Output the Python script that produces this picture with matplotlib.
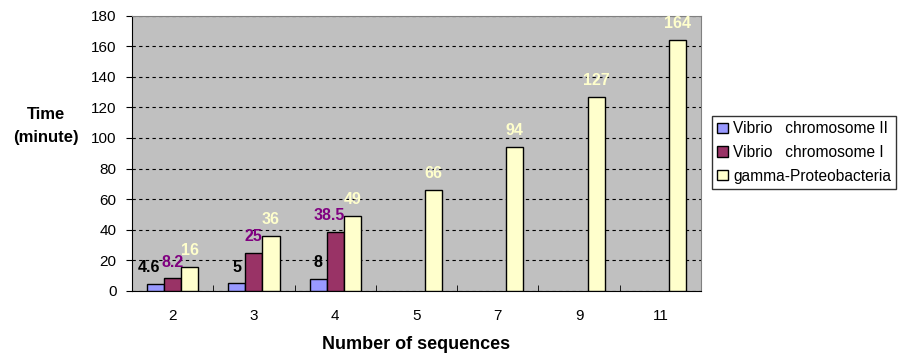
import matplotlib
matplotlib.use("Agg")
import matplotlib.pyplot as plt
import numpy as np

plt.rcParams['font.family'] = ['Liberation Sans', 'DejaVu Sans']

categories = ["2", "3", "4", "5", "7", "9", "11"]
series_names = ["Vibrio   chromosome II", "Vibrio   chromosome I", "gamma-Proteobacteria"]
chr2 = [4.6, 5, 8, None, None, None, None]
chr1 = [8.2, 25, 38.5, None, None, None, None]
gamma = [16, 36, 49, 66, 94, 127, 164]
label_text = {
    0: ["4.6", "5", "8"],
    1: ["8.2", "25", "38.5"],
}
colors = ["#9999FF", "#993366", "#FFFFCC"]
label_colors = ["#000000", "#800080", "#FFFFCC"]
yticks = [0, 20, 40, 60, 80, 100, 120, 140, 160, 180]

fig = plt.figure(figsize=(9.05, 3.6), dpi=100)
ax = fig.add_axes([132/905, 1 - 291/360, (701-132)/905, (291-15.5)/360])
ax.set_facecolor("#C0C0C0")

x = np.arange(len(categories))
w = 0.21
all_series = [chr2, chr1, gamma]
for i, (vals, c, lc) in enumerate(zip(all_series, colors, label_colors)):
    xs = [xi + (i - 1) * w for xi, v in zip(x, vals) if v is not None]
    vs = [v for v in vals if v is not None]
    ax.bar(xs, vs, width=w, color=c, edgecolor="black", linewidth=1.0,
           label=series_names[i], zorder=3)
    for j, (xx, vv) in enumerate(zip(xs, vs)):
        if i in label_text:
            t = label_text[i][j]
        else:
            t = str(int(vv)) if float(vv).is_integer() else str(vv)
        dx = 0
        if i == 0 and j == 0:
            dx = -4.5
        if i == 1 and j == 2:
            dx = -4
        ax.annotate(t, (xx, vv), xytext=(dx, 8.5), textcoords="offset points",
                    ha="center", va="baseline", color=lc, fontsize=11.5,
                    fontweight="bold", zorder=4, annotation_clip=False)

ax.set_xlim(-0.5, len(categories) - 0.5)
ax.set_ylim(0, 180)
ax.set_yticks(yticks)
ax.set_yticklabels([str(t) for t in yticks], fontsize=11)
ax.set_xticks(x)
ax.set_xticklabels(categories, fontsize=11)
ax.tick_params(axis="x", which="major", length=0, pad=13)
ax.set_xticks(np.arange(len(categories) + 1) - 0.5, minor=True)
ax.tick_params(axis="x", which="minor", direction="in", length=4, color="black")
ax.tick_params(axis="y", direction="out", length=4, color="black", pad=7)

ax.yaxis.grid(True, linestyle=(0, (3, 3)), color="black", linewidth=0.8, zorder=1)
ax.set_axisbelow(True)

for s in ["top", "right"]:
    ax.spines[s].set_color("#808080")
for s in ["left", "bottom"]:
    ax.spines[s].set_color("black")

ax.set_xlabel("Number of sequences", fontsize=13, fontweight="bold", labelpad=9)
fig.text(45.5/905, 1 - 126/360, "Time\n(minute)", ha="center", va="center",
         fontsize=12, fontweight="bold", linespacing=1.65)

leg = ax.legend(loc="upper left", bbox_to_anchor=(712/905, 1 - 116/360),
                bbox_transform=fig.transFigure, frameon=True, fancybox=False,
                fontsize=11.2, handlelength=0.65, handleheight=0.65, handletextpad=0.35,
                borderpad=0.35, labelspacing=0.55, borderaxespad=0)
leg.get_frame().set_edgecolor("black")
leg.get_frame().set_linewidth(1.0)

fig.savefig("out.png", dpi=100)
